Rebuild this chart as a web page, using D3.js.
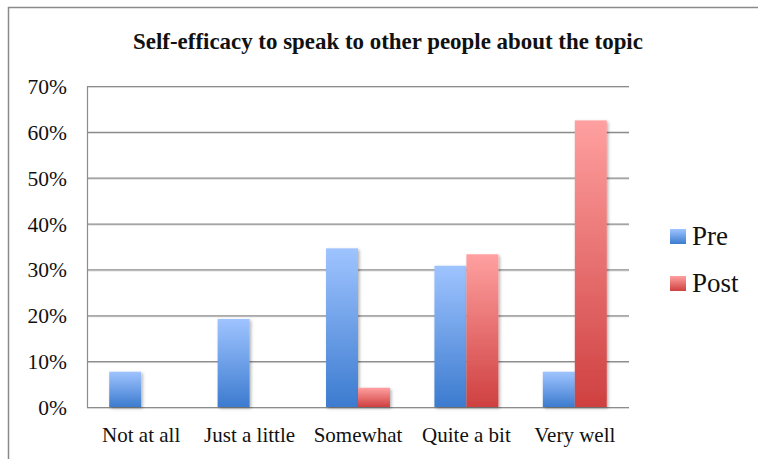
<!DOCTYPE html>
<html><head><meta charset="utf-8">
<script src="https://cdn.jsdelivr.net/npm/d3@7"></script>
<style>
html,body{margin:0;padding:0;background:#fff;}
svg{display:block;}
</style></head>
<body>
<script>
const categories = ["Not at all","Just a little","Somewhat","Quite a bit","Very well"];
const seriesNames = ["Pre","Post"];
const preValues = [0.077,0.192,0.346,0.308,0.077];
const postValues = [0,0,0.042,0.333,0.625];
const yTicks = [0,0.1,0.2,0.3,0.4,0.5,0.6,0.7];
const title = "Self-efficacy to speak to other people about the topic";

(function(){
const FONT='"Liberation Serif","Times New Roman",serif';
const W=758,H=459;
const svg=d3.select("body").append("svg").attr("width",W).attr("height",H);
const defs=svg.append("defs");
function grad(id,c1,c2){
  const g=defs.append("linearGradient").attr("id",id).attr("x1",0).attr("y1",0).attr("x2",0).attr("y2",1);
  g.append("stop").attr("offset","0%").attr("stop-color",c1);
  g.append("stop").attr("offset","100%").attr("stop-color",c2);
}
grad("gPre","#9fc4ff","#3c7bcf");
grad("gPost","#ffa0a0","#cf4040");
const f=defs.append("filter").attr("id","sh").attr("x","-20%").attr("y","-10%").attr("width","150%").attr("height","130%");
f.append("feDropShadow").attr("dx",1.5).attr("dy",1.5).attr("stdDeviation",1.5).attr("flood-color","#000").attr("flood-opacity",0.3);

// outer border
svg.append("rect").attr("x",8.5).attr("y",7.5).attr("width",W+20).attr("height",H+20).attr("fill","none").attr("stroke","#8a8a8a").attr("stroke-width",1.5);

const pL=87,pR=629,pT=86,pB=407;
const x=d3.scaleBand().domain(categories).range([pL,pR]).paddingInner(0.41).paddingOuter(0.205);
const xs=d3.scaleBand().domain(seriesNames).range([0,x.bandwidth()]);
const y=d3.scaleLinear().domain([0,0.7]).range([pB,pT]);

// gridlines
const gg=svg.append("g");
yTicks.forEach(t=>{
  gg.append("line").attr("x1",pL).attr("x2",pR).attr("y1",y(t)+1.5).attr("y2",y(t)+1.5).attr("stroke","#d8d8d8").attr("stroke-width",1);
  gg.append("line").attr("x1",pL).attr("x2",pR).attr("y1",y(t)+0.5).attr("y2",y(t)+0.5).attr("stroke","#8c8c8c").attr("stroke-width",1.2);
});
svg.append("line").attr("x1",pL+0.5).attr("x2",pL+0.5).attr("y1",pT).attr("y2",pB+1).attr("stroke","#8c8c8c").attr("stroke-width",1.2);

// y axis labels
const yAxis=d3.axisLeft(y).tickValues(yTicks).tickFormat(d3.format(".0%")).tickSize(0).tickPadding(20);
const ya=svg.append("g").attr("transform",`translate(${pL},0)`).call(yAxis).attr("font-family",null);
ya.select(".domain").remove();
ya.selectAll("text").style("font-family",FONT).style("font-size","21.5px").attr("fill","#111").attr("dy","0.35em");

// x axis labels
const xAxis=d3.axisBottom(x).tickSize(0).tickPadding(20);
const xa=svg.append("g").attr("transform",`translate(0,${pB})`).call(xAxis).attr("font-family",null);
xa.select(".domain").remove();
xa.selectAll("text").style("font-family",FONT).style("font-size","21px").attr("fill","#111");

// bars
const data=[];
categories.forEach((c,i)=>{
  data.push({c,s:"Pre",v:preValues[i]});
  data.push({c,s:"Post",v:postValues[i]});
});
svg.append("g").selectAll("rect").data(data.filter(d=>d.v>0)).join("rect")
  .attr("x",d=>x(d.c)+xs(d.s))
  .attr("width",xs.bandwidth())
  .attr("y",d=>y(d.v))
  .attr("height",d=>y(0)-y(d.v))
  .attr("fill",d=>d.s==="Pre"?"url(#gPre)":"url(#gPost)")
  .attr("filter","url(#sh)");

// title
const tt=svg.append("text").attr("x",388).attr("y",49).attr("text-anchor","middle")
  .style("font-family",FONT).style("font-size","19px").style("font-weight","bold").attr("fill","#111").text(title);
const tw=tt.node().getComputedTextLength();
if(tw>0) tt.style("font-size",(19*510/tw).toFixed(2)+"px");

// legend
const lg=svg.append("g");
seriesNames.forEach((s,i)=>{
  const yy=229+i*47;
  lg.append("rect").attr("x",670).attr("y",yy).attr("width",16).attr("height",15).attr("fill",s==="Pre"?"url(#gPre)":"url(#gPost)");
  lg.append("text").attr("x",692).attr("y",yy+16).style("font-family",FONT).style("font-size","27px").attr("fill","#111").text(s);
});
})();
</script>
</body></html>
